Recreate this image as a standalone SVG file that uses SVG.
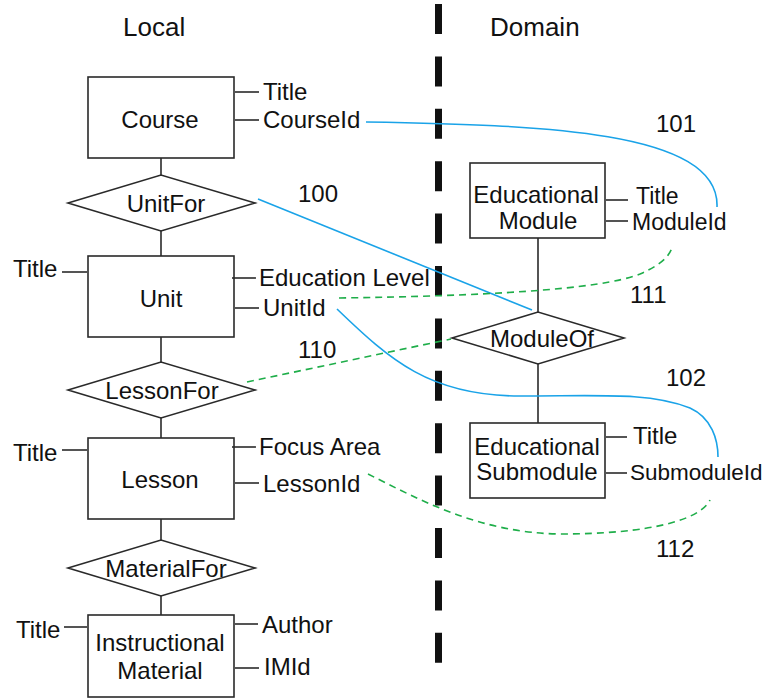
<svg xmlns="http://www.w3.org/2000/svg" width="765" height="698" viewBox="0 0 765 698">
<style>
  text { font-family: "Liberation Sans", Arial, sans-serif; font-size: 24px; fill: #111; }
  .hdr { font-size: 26px; }
  .mid { text-anchor: middle; }
  .shape { fill: #fff; stroke: #2a2a2a; stroke-width: 1.6; }
  .ln { stroke: #2a2a2a; stroke-width: 1.6; fill: none; }
  .blue { stroke: #1aa3e8; stroke-width: 1.6; fill: none; }
  .green { stroke: #1fae4a; stroke-width: 1.6; fill: none; stroke-dasharray: 7 5; }
  .divider { stroke: #111; stroke-width: 7; stroke-dasharray: 30 22.4; }
</style>
<rect width="765" height="698" fill="#fff"/>

<g id="headers">
  <text class="hdr" x="123" y="36">Local</text>
  <text class="hdr" x="490" y="36">Domain</text>
</g>

<line id="divider" class="divider" x1="438.5" y1="4" x2="438.5" y2="665"/>

<g id="links">
  <line class="ln" x1="161" y1="158" x2="161" y2="175"/>
  <line class="ln" x1="161" y1="231" x2="161" y2="256"/>
  <line class="ln" x1="161" y1="337" x2="161" y2="362"/>
  <line class="ln" x1="161" y1="418" x2="161" y2="438"/>
  <line class="ln" x1="161" y1="519" x2="161" y2="540"/>
  <line class="ln" x1="161" y1="596" x2="161" y2="615"/>
  <line class="ln" x1="538" y1="238" x2="538" y2="312"/>
  <line class="ln" x1="538" y1="364" x2="538" y2="423"/>
</g>

<g id="course">
  <rect class="shape" x="88" y="77" width="146" height="81"/>
  <text class="mid" x="160" y="128">Course</text>
  <line class="ln" x1="235" y1="92" x2="259" y2="92"/>
  <text x="263" y="100">Title</text>
  <line class="ln" x1="235" y1="120" x2="259" y2="120"/>
  <text x="263" y="128">CourseId</text>
</g>

<g id="unitfor">
  <polygon class="shape" points="68,203 161,175 255,203 161,231"/>
  <text class="mid" x="166" y="212">UnitFor</text>
</g>

<g id="unit">
  <rect class="shape" x="88" y="256" width="146" height="81"/>
  <text class="mid" x="161" y="307">Unit</text>
  <line class="ln" x1="62" y1="272" x2="87" y2="272"/>
  <text x="13" y="277">Title</text>
  <line class="ln" x1="232" y1="278" x2="256" y2="278"/>
  <text x="259" y="286">Education Level</text>
  <line class="ln" x1="235" y1="308" x2="259" y2="308"/>
  <text x="263" y="316">UnitId</text>
</g>

<g id="lessonfor">
  <polygon class="shape" points="68,390 161,362 255,390 161,418"/>
  <text class="mid" x="162" y="399">LessonFor</text>
</g>

<g id="lesson">
  <rect class="shape" x="88" y="438" width="146" height="81"/>
  <text class="mid" x="160" y="488">Lesson</text>
  <line class="ln" x1="62" y1="450" x2="87" y2="450"/>
  <text x="13" y="461">Title</text>
  <line class="ln" x1="232" y1="447" x2="256" y2="447"/>
  <text x="259" y="455">Focus Area</text>
  <line class="ln" x1="235" y1="483" x2="259" y2="483"/>
  <text x="263" y="492">LessonId</text>
</g>

<g id="materialfor">
  <polygon class="shape" points="68,568 161,540 255,568 161,596"/>
  <text class="mid" x="166" y="577">MaterialFor</text>
</g>

<g id="instructional-material">
  <rect class="shape" x="88" y="615" width="146" height="82"/>
  <text class="mid" x="160" y="651">Instructional</text>
  <text class="mid" x="160" y="679">Material</text>
  <line class="ln" x1="64" y1="627" x2="87" y2="627"/>
  <text x="16" y="638">Title</text>
  <line class="ln" x1="235" y1="624" x2="258" y2="624"/>
  <text x="262" y="633">Author</text>
  <line class="ln" x1="235" y1="668" x2="259" y2="668"/>
  <text x="264" y="675">IMId</text>
</g>

<g id="educational-module">
  <rect class="shape" x="470" y="163" width="135" height="75"/>
  <text class="mid" x="536" y="203">Educational</text>
  <text class="mid" x="538" y="229">Module</text>
  <line class="ln" x1="606" y1="200" x2="628" y2="200"/>
  <text x="636" y="204" style="font-size:23px">Title</text>
  <line class="ln" x1="606" y1="221" x2="628" y2="221"/>
  <text x="632" y="230" style="font-size:23px">ModuleId</text>
</g>

<g id="moduleof">
  <polygon class="shape" points="452,338 538,312 624,338 538,364"/>
  <text class="mid" x="542" y="347">ModuleOf</text>
</g>

<g id="educational-submodule">
  <rect class="shape" x="470" y="423" width="135" height="75"/>
  <text class="mid" x="537" y="455">Educational</text>
  <text class="mid" x="537" y="480">Submodule</text>
  <line class="ln" x1="606" y1="437" x2="627" y2="437"/>
  <text x="633" y="444">Title</text>
  <line class="ln" x1="606" y1="473" x2="627" y2="473"/>
  <text x="630" y="480" style="font-size:22.5px">SubmoduleId</text>
</g>

<g id="connectors">
  <path class="blue" d="M366,122 C540,125 720,130 717,207"/>
  <line class="blue" x1="258" y1="199" x2="532" y2="310"/>
  <path class="blue" d="M337,309 C390,360 430,396 520,396 C600,396 650,392 690,408 C712,418 718,440 718,457"/>
  <path class="green" d="M339,298 C480,296 600,290 640,274 C660,265 668,258 672,248"/>
  <line class="green" x1="247" y1="382" x2="451" y2="339"/>
  <path class="green" d="M368,474 C420,500 480,533 560,534 C650,534 700,520 710,500"/>
</g>

<g id="labels">
  <text x="298" y="202">100</text>
  <text x="656" y="132">101</text>
  <text x="630" y="303">111</text>
  <text x="298" y="358">110</text>
  <text x="666" y="386">102</text>
  <text x="656" y="557">112</text>
</g>
</svg>
